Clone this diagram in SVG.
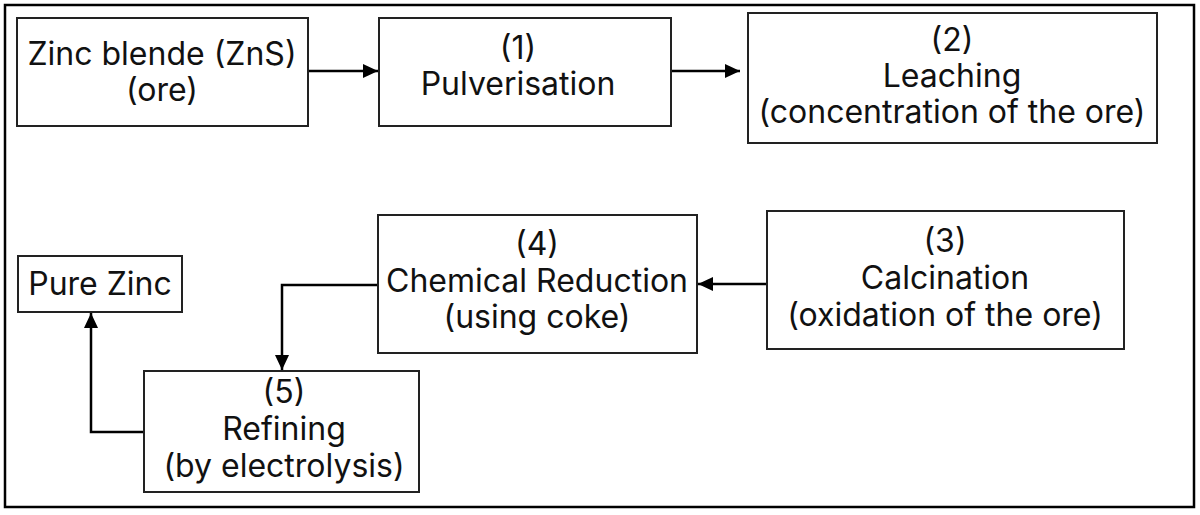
<svg xmlns="http://www.w3.org/2000/svg" width="1200" height="515" viewBox="0 0 1200 515">
<style>
.box{fill:#fff;stroke:#222;stroke-width:2}
.t{font-family:Inter,"Noto Sans","Liberation Sans",sans-serif;font-size:32px;fill:#111;text-anchor:middle}
.c{fill:none;stroke:#000;stroke-width:2.5}
</style>
<defs>
<marker id="ah" viewBox="0 0 15 14" refX="15" refY="7" markerWidth="15" markerHeight="14" markerUnits="userSpaceOnUse" orient="auto">
<path d="M0,0 L15,7 L0,14 Z" fill="#000"/>
</marker>
</defs>
<rect x="0" y="0" width="1200" height="515" fill="#fff"/>
<rect x="5" y="5" width="1189" height="502" fill="none" stroke="#000" stroke-width="2.5"/>
<g id="connectors">
<path class="c" d="M309,71 H378" marker-end="url(#ah)"/>
<path class="c" d="M671,71 H740" marker-end="url(#ah)"/>
<path class="c" d="M767,284 H698" marker-end="url(#ah)"/>
<path class="c" d="M378,285 H282 V370" marker-end="url(#ah)"/>
<path class="c" d="M144,432 H91 V313" marker-end="url(#ah)"/>
</g>
<g id="ore">
<rect class="box" x="17" y="18" width="291" height="108"/>
<text class="t" x="162" y="65">Zinc blende (ZnS)</text>
<text class="t" x="162" y="101">(ore)</text>
</g>
<g id="pulverisation">
<rect class="box" x="379" y="18" width="292" height="108"/>
<text class="t" x="518" y="59">(1)</text>
<text class="t" x="518" y="95">Pulverisation</text>
</g>
<g id="leaching">
<rect class="box" x="748" y="13" width="409" height="130"/>
<text class="t" x="952" y="51">(2)</text>
<text class="t" x="952" y="87">Leaching</text>
<text class="t" x="952" y="123">(concentration of the ore)</text>
</g>
<g id="calcination">
<rect class="box" x="767" y="211" width="357" height="138"/>
<text class="t" x="945" y="252">(3)</text>
<text class="t" x="945" y="289">Calcination</text>
<text class="t" x="945" y="326">(oxidation of the ore)</text>
</g>
<g id="reduction">
<rect class="box" x="378" y="215" width="319" height="138"/>
<text class="t" x="537" y="255">(4)</text>
<text class="t" x="537" y="292">Chemical Reduction</text>
<text class="t" x="537" y="328">(using coke)</text>
</g>
<g id="refining">
<rect class="box" x="144" y="371" width="275" height="121"/>
<text class="t" x="284" y="403">(5)</text>
<text class="t" x="284" y="440">Refining</text>
<text class="t" x="284" y="477">(by electrolysis)</text>
</g>
<g id="purezinc">
<rect class="box" x="18" y="256" width="164" height="56"/>
<text class="t" x="100" y="295">Pure Zinc</text>
</g>
</svg>
